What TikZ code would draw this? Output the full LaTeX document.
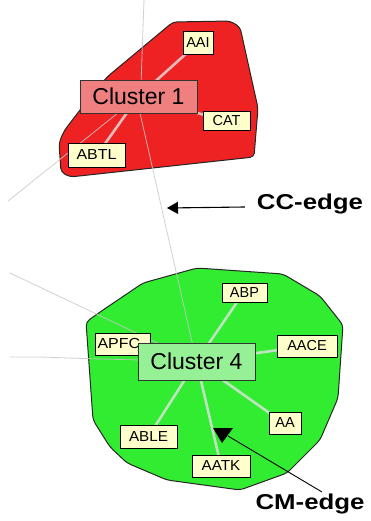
\documentclass[tikz,border=0pt]{standalone}
\usepackage{fontspec}
\setmainfont{Liberation Sans}
\usetikzlibrary{arrows.meta}
\definecolor{redfill}{RGB}{238,34,34}
\definecolor{greenfill}{RGB}{50,236,50}
\definecolor{c1fill}{RGB}{240,128,128}
\definecolor{c4fill}{RGB}{150,240,150}
\definecolor{memfill}{RGB}{255,255,204}
\definecolor{thinline}{RGB}{200,200,200}
\definecolor{inedge}{RGB}{225,225,225}
\tikzset{
  member/.style={draw=black, line width=0.9pt, fill=memfill, inner sep=0pt,
    font=\fontsize{14.5}{14.5}\selectfont},
  clusterbox/.style={draw=black!80, line width=0.9pt, inner sep=0pt,
    font=\fontsize{23}{23}\selectfont},
  hull/.style={draw=black!85, line width=1pt, rounded corners=4pt},
  outedge/.style={draw=thinline, line width=0.8pt, opacity=0.85},
  inneredge/.style={draw=inedge, line width=2.6pt, opacity=0.8},
  callout/.style={font=\bfseries\fontsize{21.5}{21.5}\selectfont, inner sep=0pt},
}
\begin{document}
\begin{tikzpicture}[x=1pt,y=-1pt]
\useasboundingbox (0,0) rectangle (370,521);

% far-end coordinates of edges leaving the picture
\coordinate (top1) at (144,0);
\coordinate (left1) at (8,201);
\coordinate (left4a) at (10,273);
\coordinate (left4b) at (10,357);
\coordinate (hub1) at (140,113);

% hulls
\path[hull, fill=redfill] (173,22) -- (230,21) -- (240,27) -- (258,108) -- (254,157)
  -- (70,177) -- (61,172) -- (59,143) -- (64,131) -- (80,110) -- (107,77) -- cycle;
\path[hull, fill=greenfill] (86,322) -- (103,310) -- (143,283) -- (197,268)
  -- (283,274) -- (320,296) -- (343,325) -- (338,398) -- (320,440) -- (287,473)
  -- (240,490) -- (167,480) -- (127,463) -- (110,447) -- (93,420) -- cycle;

% node positions
\coordinate (c1pos) at (138.5,96.5);
\coordinate (c4pos) at (196.5,361.5);

% inner edges
\draw[inneredge] (c1pos) -- (198,43);
\draw[inneredge] (c1pos) -- (226,121);
\draw[inneredge] (c1pos) -- (97,155);
\draw[inneredge] (c4pos) -- (244,292);
\draw[inneredge] (c4pos) -- (307,346);
\draw[inneredge] (c4pos) -- (285,424);
\draw[inneredge] (c4pos) -- (221,466);
\draw[inneredge] (c4pos) -- (148.5,436.5);
\draw[inneredge] (c4pos) -- (122,344);

% thin edges between clusters / outward
\draw[outedge] (top1) -- (hub1);
\draw[outedge] (hub1) -- (c4pos);
\draw[outedge] (left1) -- (c1pos);
\draw[outedge] (left4a) -- (c4pos);
\draw[outedge] (left4b) -- (40,357) -- (83,358.5) -- (c4pos);

% member nodes
\node[member, minimum width=30pt, minimum height=23pt] (AAI) at (198,43) {AAI};
\node[member, minimum width=47pt, minimum height=19pt] (CAT) at (226.5,121) {CAT};
\node[member, minimum width=57pt, minimum height=24pt] (ABTL) at (96.5,155) {\scalebox{1.1}[1]{ABTL}};
\node[clusterbox, fill=c1fill, minimum width=117pt, minimum height=33pt] (C1) at (c1pos) {Cluster 1};

\node[member, minimum width=45pt, minimum height=19pt] (ABP) at (244.5,292.5) {ABP};
\node[member, minimum width=55pt, minimum height=22pt, text width=50pt, align=left] (APFC) at (122.5,344) {\scalebox{1.1}[1]{APFC}};
\node[member, minimum width=60pt, minimum height=22pt] (AACE) at (307,346) {AACE};
\node[member, minimum width=32pt, minimum height=22pt] (AA) at (285,423) {AA};
\node[member, minimum width=57pt, minimum height=23pt] (ABLE) at (148.5,436.5) {\scalebox{1.05}[1]{ABLE}};
\node[member, minimum width=58pt, minimum height=22pt] (AATK) at (221,466) {\scalebox{1.05}[1]{AATK}};
\node[clusterbox, fill=c4fill, minimum width=117pt, minimum height=37pt] (C4) at (c4pos) {Cluster 4};

% callouts
\node[callout] (CC) at (310,204) {\scalebox{1.2}[1]{CC-edge}};
\node[callout] (CM) at (310,504) {\scalebox{1.2}[1]{CM-edge}};
\coordinate (cctip) at (167,208);
\coordinate (cmtail) at (322,492);
\coordinate (cmtip) at (228,436);
\draw[line width=1.1pt, -{Triangle[length=11pt,width=12pt]}] (CC.west) ++(-12,3) -- (cctip);
\draw[line width=0.9pt] (cmtail) -- (cmtip);
\fill[black] (213,428) -- (233,428) -- (222,443) -- cycle;
\end{tikzpicture}
\end{document}
